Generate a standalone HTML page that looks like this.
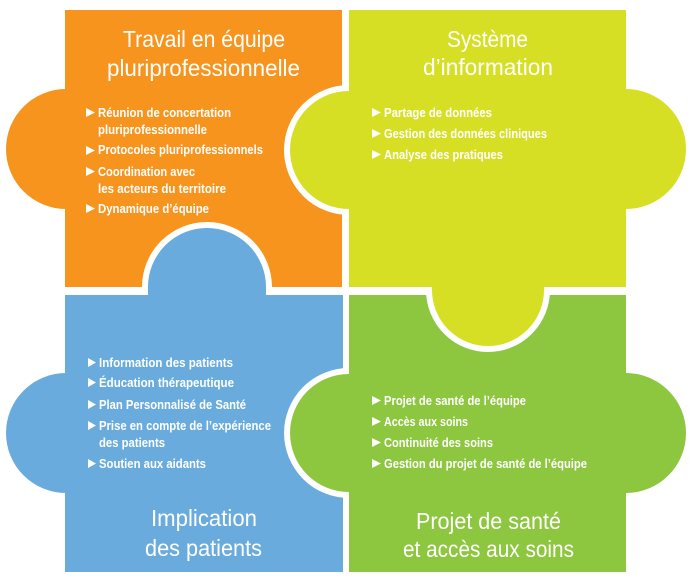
<!DOCTYPE html>
<html><head><meta charset="utf-8"><style>
html,body{margin:0;padding:0;background:#fff}
svg{display:block}
text{font-family:"Liberation Sans Narrow","Liberation Sans",sans-serif;fill:#fff}
.t{font-size:23px}
.i{font-size:12.5px;font-weight:bold}
</style></head><body>
<svg width="699" height="580" viewBox="0 0 699 580" xmlns="http://www.w3.org/2000/svg">
<!-- base rects -->
<rect x="65" y="10" width="277" height="277" fill="#F7941E"/>
<circle cx="66" cy="149" r="60" fill="#F7941E"/>
<rect x="65" y="295" width="278" height="277" fill="#6AABDD"/>
<circle cx="66" cy="433" r="60" fill="#6AABDD"/>
<rect x="349" y="10" width="277" height="277" fill="#D6DF23"/>
<circle cx="626" cy="149" r="60" fill="#D6DF23"/>
<rect x="349" y="295" width="277" height="277" fill="#8DC63F"/>
<circle cx="626" cy="433" r="60" fill="#8DC63F"/>
<!-- interlocking tabs -->
<path d="M145,295 L145,287 A62,62 0 0 1 269,287 L269,295" fill="#6AABDD" stroke="#fff" stroke-width="6"/>
<rect x="148" y="287" width="118" height="10" fill="#6AABDD"/>
<path d="M349,88 A62,62 0 0 0 349,212" fill="#D6DF23" stroke="#fff" stroke-width="6"/>
<path d="M429,287 L429,290 A59,59 0 0 0 547,290 L547,287" fill="#D6DF23" stroke="#fff" stroke-width="6"/>
<rect x="432" y="284" width="112" height="8" fill="#D6DF23"/>
<path d="M349,371 A62,62 0 0 0 349,495" fill="#8DC63F" stroke="#fff" stroke-width="6"/>
<!-- titles -->
<text class="t" x="123" y="47" textLength="162" lengthAdjust="spacingAndGlyphs">Travail en équipe</text>
<text class="t" x="107" y="76" textLength="193" lengthAdjust="spacingAndGlyphs">pluriprofessionnelle</text>
<text class="t" x="447" y="47" textLength="81" lengthAdjust="spacingAndGlyphs">Système</text>
<text class="t" x="423" y="75" textLength="130" lengthAdjust="spacingAndGlyphs">d’information</text>
<text class="t" x="151" y="526" textLength="106" lengthAdjust="spacingAndGlyphs">Implication</text>
<text class="t" x="145" y="556" textLength="117" lengthAdjust="spacingAndGlyphs">des patients</text>
<text class="t" x="416" y="529" textLength="145" lengthAdjust="spacingAndGlyphs">Projet de santé</text>
<text class="t" x="403" y="557" textLength="171" lengthAdjust="spacingAndGlyphs">et accès aux soins</text>
<!-- orange items -->
<g fill="#fff">
<polygon points="86,108 95,112.5 86,117"/><polygon points="86,146 95,150.5 86,155"/><polygon points="86,167 95,171.5 86,176"/><polygon points="86,204 95,208.5 86,213"/>
<polygon points="372,108 381,112.5 372,117"/><polygon points="372,129 381,133.5 372,138"/><polygon points="372,150 381,154.5 372,159"/>
<polygon points="88,358 96,362.5 88,367"/><polygon points="88,378 96,382.5 88,387"/><polygon points="88,400 96,404.5 88,409"/><polygon points="88,421 96,425.5 88,430"/><polygon points="88,459 96,463.5 88,468"/>
<polygon points="372,396 381,400.5 372,405"/><polygon points="372,417 381,421.5 372,426"/><polygon points="372,438 381,442.5 372,447"/><polygon points="372,459 381,463.5 372,468"/>
</g>
<text class="i" x="98" y="117" textLength="133" lengthAdjust="spacingAndGlyphs">Réunion de concertation</text>
<text class="i" x="98" y="134" textLength="109" lengthAdjust="spacingAndGlyphs">pluriprofessionnelle</text>
<text class="i" x="98" y="154" textLength="165" lengthAdjust="spacingAndGlyphs">Protocoles pluriprofessionnels</text>
<text class="i" x="98" y="176" textLength="97" lengthAdjust="spacingAndGlyphs">Coordination avec</text>
<text class="i" x="98" y="193" textLength="128" lengthAdjust="spacingAndGlyphs">les acteurs du territoire</text>
<text class="i" x="98" y="213" textLength="111" lengthAdjust="spacingAndGlyphs">Dynamique d’équipe</text>
<text class="i" x="384" y="117" textLength="108" lengthAdjust="spacingAndGlyphs">Partage de données</text>
<text class="i" x="384" y="138" textLength="163" lengthAdjust="spacingAndGlyphs">Gestion des données cliniques</text>
<text class="i" x="384" y="159" textLength="119" lengthAdjust="spacingAndGlyphs">Analyse des pratiques</text>
<text class="i" x="99" y="367" textLength="134" lengthAdjust="spacingAndGlyphs">Information des patients</text>
<text class="i" x="99" y="387" textLength="135" lengthAdjust="spacingAndGlyphs">Éducation thérapeutique</text>
<text class="i" x="99" y="409" textLength="147" lengthAdjust="spacingAndGlyphs">Plan Personnalisé de Santé</text>
<text class="i" x="99" y="430" textLength="172" lengthAdjust="spacingAndGlyphs">Prise en compte de l’expérience</text>
<text class="i" x="99" y="447" textLength="66" lengthAdjust="spacingAndGlyphs">des patients</text>
<text class="i" x="99" y="468" textLength="107" lengthAdjust="spacingAndGlyphs">Soutien aux aidants</text>
<text class="i" x="384" y="405" textLength="142" lengthAdjust="spacingAndGlyphs">Projet de santé de l’équipe</text>
<text class="i" x="384" y="426" textLength="84" lengthAdjust="spacingAndGlyphs">Accès aux soins</text>
<text class="i" x="384" y="447" textLength="109" lengthAdjust="spacingAndGlyphs">Continuité des soins</text>
<text class="i" x="384" y="468" textLength="203" lengthAdjust="spacingAndGlyphs">Gestion du projet de santé de l’équipe</text>
</svg>
</body></html>
